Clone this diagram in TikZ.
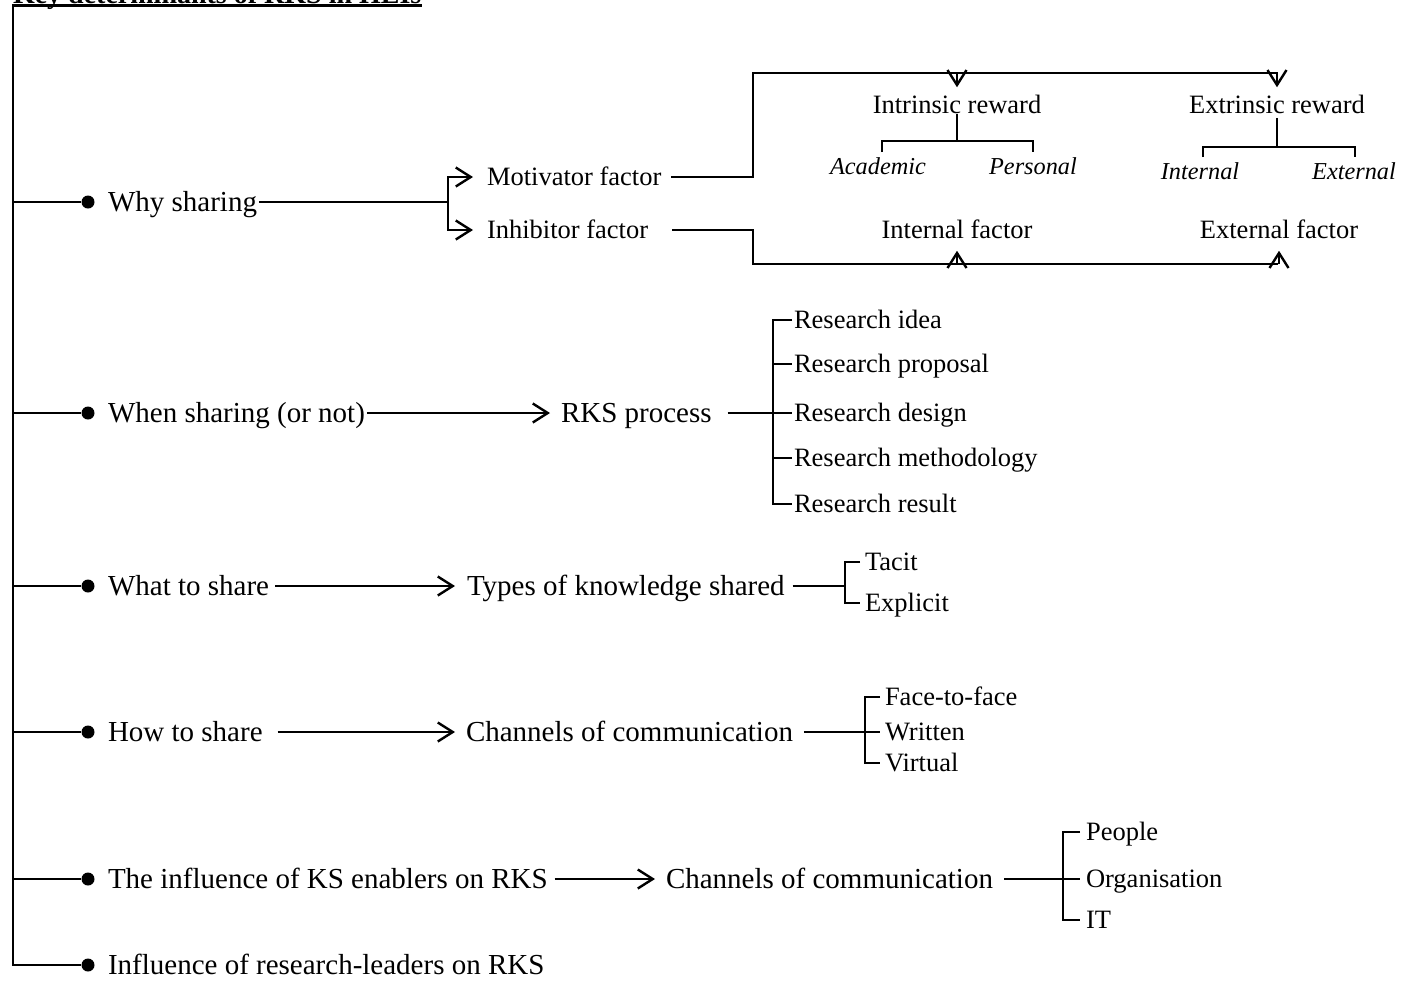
\documentclass[tikz,border=0pt]{standalone}
\usepackage{fontspec}
\setmainfont{Liberation Serif}
\usetikzlibrary{arrows.meta,calc}
\begin{document}
\begin{tikzpicture}[x=1pt,y=-1pt,
  line width=2pt,
  lbl/.style={inner sep=0pt, outer sep=0pt, anchor=west,
    font=\fontsize{29}{34}\selectfont, text height=19pt, text depth=0pt},
  sub/.style={inner sep=0pt, outer sep=0pt, anchor=west,
    font=\fontsize{26.5}{31}\selectfont, text height=17.5pt, text depth=0pt},
  subc/.style={sub, anchor=center},
  itl/.style={inner sep=0pt, outer sep=0pt,
    font=\fontsize{24.3}{29}\selectfont\itshape, text height=16pt, text depth=0pt},
  dot/.style={circle, fill, inner sep=0pt, minimum size=13pt},
  tip/.tip={Straight Barb[length=15pt,width=19pt,line width=2.4pt]},
  arr/.style={-tip},
  arrs/.style={tip-tip},
]
\useasboundingbox (0,0) rectangle (1402,986);
\clip (0,0) rectangle (1402,986);

% heading, underlined
\node[inner sep=0pt, anchor=base west, font=\fontsize{28}{33}\selectfont\bfseries]
  (title) at (12,3) {Key determinants of RKS in HEIs};
\draw[line width=2.2pt] ([yshift=-2.5pt]title.base west) -- ([yshift=-2.5pt]title.base east);

% spine and bullets
\coordinate (sp0) at (13,6);
\node[dot] (d1) at (88,202) {};
\node[dot] (d2) at (88,413) {};
\node[dot] (d3) at (88,586) {};
\node[dot] (d4) at (88,732) {};
\node[dot] (d5) at (88,879) {};
\node[dot] (d6) at (88,965) {};
\draw (sp0) -- (sp0 |- d6) -- (d6);
\foreach \d in {d1,d2,d3,d4,d5} \draw (sp0 |- \d) -- (\d);

% main labels
\node[lbl] (why)  at (108,202) {Why sharing};
\node[lbl] (when) at (108,413) {When sharing (or not)};
\node[lbl] (what) at (108,586) {What to share};
\node[lbl] (how)  at (108,732) {How to share};
\node[lbl] (ks)   at (108,879) {The influence of KS enablers on RKS};
\node[lbl] (lead) at (108,965) {Influence of research-leaders on RKS};

% ---- why sharing
\node[sub] (mot) at (487,177) {Motivator factor};
\node[sub] (inh) at (487,230) {Inhibitor factor};
\coordinate (j1) at (448,202);
\draw ([xshift=2pt]why.east) -- (j1);
\draw[arrs] ([xshift=-14pt]mot.west) -| (j1) |- ([xshift=-14pt]inh.west);

\node[subc] (intr) at (957,105) {Intrinsic reward};
\node[subc] (extr) at (1277,105) {Extrinsic reward};
\node[itl] (acad) at (878,166) {Academic};
\node[itl] (pers) at (1033,166) {Personal};
\node[itl] (inte) at (1200,171) {Internal};
\node[itl] (exte) at (1354,171) {External};
\node[subc] (intf) at (957,230) {Internal factor};
\node[subc] (extf) at (1279,230) {External factor};

\coordinate (mtop) at (753,73);
\coordinate (mend) at (1278,73);
\draw ([xshift=10pt]mot.east) -| (mtop) -- (mend);
\draw[arr] (intr.north |- mtop) -- ([yshift=9pt]intr.north);
\draw[arr] (extr.north |- mtop) -- ([yshift=9pt]extr.north);

\coordinate (ia) at ($(acad.north)+(4,-6)$);
\coordinate (ip) at ($(pers.north)+(0,-6)$);
\path (ia) ++(0,-11) coordinate (ibar);
\draw (ia) -- (ibar) -| (ip);
\draw (intr.south) -- (intr.south |- ibar);

\coordinate (ea) at ($(inte.north)+(3,-6)$);
\coordinate (ep) at ($(exte.north)+(1,-6)$);
\path (ea) ++(0,-10) coordinate (ebar);
\draw (ea) -- (ebar) -| (ep);
\draw ([yshift=-4pt]extr.south) -- (extr.south |- ebar);

\coordinate (ibot) at (753,264);
\coordinate (iend) at (1278,264);
\draw ([xshift=24pt]inh.east) -| (ibot) -- (iend);
\draw[arr] (intf.south |- ibot) -- ([yshift=-12pt]intf.south);
\draw[arr] (extf.south |- ibot) -- ([yshift=-12pt]extf.south);

% ---- when sharing
\node[lbl] (rks) at (561,413) {RKS process};
\node[sub] (ri1) at (794,320) {Research idea};
\node[sub] (ri2) at (794,364) {Research proposal};
\node[sub] (ri3) at (794,413) {Research design};
\node[sub] (ri4) at (794,458) {Research methodology};
\node[sub] (ri5) at (794,504) {Research result};
\draw[arr] ([xshift=2pt]when.east) -- ([xshift=-11pt]rks.west);
\coordinate (rbx) at (773,0);
\draw ([xshift=16pt]rks.east) -- ([xshift=-2pt]ri3.west);
\draw ([xshift=-2pt]ri1.west) -| (rbx |- ri5.west) -- ([xshift=-2pt]ri5.west);
\draw (rbx |- ri2.west) -- ([xshift=-2pt]ri2.west);
\draw (rbx |- ri4.west) -- ([xshift=-2pt]ri4.west);

% ---- what to share
\node[lbl] (types) at (467,586) {Types of knowledge shared};
\node[sub] (tac) at (865,562) {Tacit};
\node[sub] (expl) at (865,603) {Explicit};
\draw[arr] ([xshift=6pt]what.east) -- ([xshift=-12pt]types.west);
\coordinate (tbx) at (845,0);
\draw ([xshift=8pt]types.east) -- (tbx |- types.east);
\draw ([xshift=-5pt]tac.west) -| (tbx |- expl.west) -- ([xshift=-5pt]expl.west);

% ---- how to share
\node[lbl] (ch1) at (466,732) {Channels of communication};
\node[sub] (face) at (885,697) {Face-to-face};
\node[sub] (writ) at (885,732) {Written};
\node[sub] (virt) at (885,763) {Virtual};
\draw[arr] ([xshift=15pt]how.east) -- ([xshift=-11pt]ch1.west);
\coordinate (hbx) at (865,0);
\draw ([xshift=11pt]ch1.east) -- ([xshift=-5pt]writ.west);
\draw ([xshift=-5pt]face.west) -| (hbx |- virt.west) -- ([xshift=-5pt]virt.west);

% ---- KS enablers
\node[lbl] (ch2) at (666,879) {Channels of communication};
\node[sub] (peop) at (1086,832) {People};
\node[sub] (org)  at (1086,879) {Organisation};
\node[sub] (it)   at (1086,920) {IT};
\draw[arr] ([xshift=7pt]ks.east) -- ([xshift=-11pt]ch2.west);
\coordinate (kbx) at (1063,0);
\draw ([xshift=11pt]ch2.east) -- (kbx |- ch2.east);
\draw ([xshift=-6pt]peop.west) -| (kbx |- it.west) -- ([xshift=-6pt]it.west);
\draw (kbx |- org.west) -- ([xshift=-6pt]org.west);
\end{tikzpicture}
\end{document}
